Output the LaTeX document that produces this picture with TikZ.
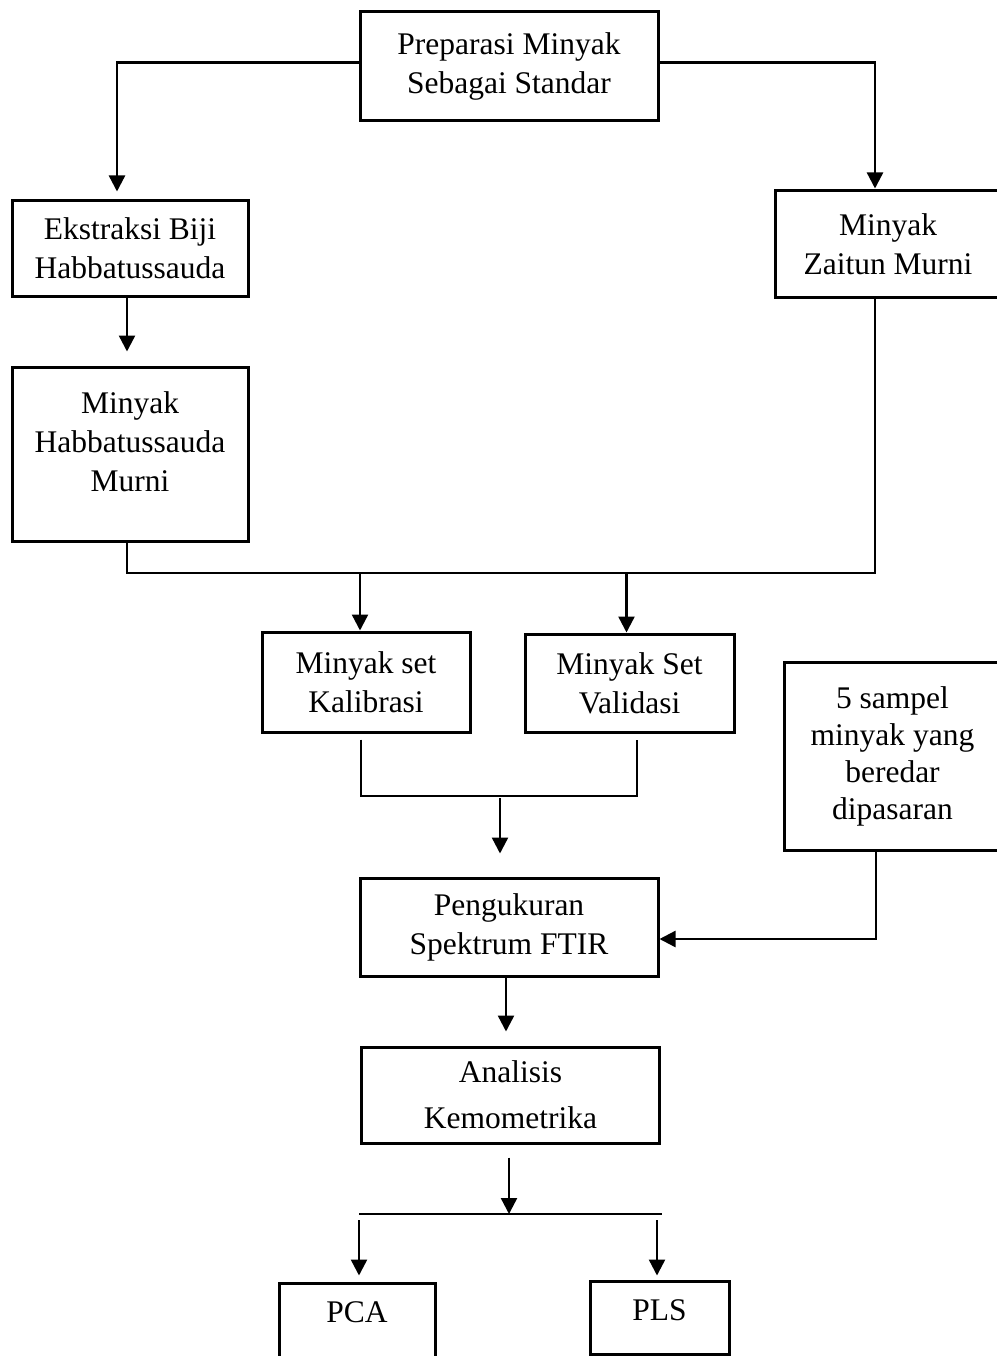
\documentclass[tikz,border=0pt]{standalone}
\usepackage{fontspec}
\setmainfont{Liberation Serif}
\usetikzlibrary{arrows.meta, positioning}

\begin{document}
\begin{tikzpicture}[x=1pt, y=-1pt,
  kotak/.style={draw, line width=3pt, align=center, inner sep=0pt,
    font=\fontsize{31.5}{39}\selectfont},
  panah/.style={-{Triangle[length=16pt,width=16pt]}, line width=2.4pt},
  garis/.style={line width=1.5pt}]
\useasboundingbox (0,0) rectangle (996,1356);

\node[kotak, minimum width=298pt, minimum height=109pt] (prep) at (509,66.5) {Preparasi Minyak\\Sebagai Standar};
\node[kotak, minimum width=236pt, minimum height=95pt] (ekstr) at (130,248.5) {Ekstraksi Biji\\Habbatussauda};
\node[kotak, minimum width=236pt, minimum height=174pt] (mhab) at (130,454) {Minyak\\Habbatussauda\\Murni\\[-15pt]};
\node[kotak, minimum width=226pt, minimum height=106pt] (mzait) at (888,244) {Minyak\\Zaitun Murni};
\node[kotak, minimum width=208pt, minimum height=100pt] (kalib) at (366,682) {Minyak set\\Kalibrasi};
\node[kotak, minimum width=209pt, minimum height=98pt] (valid) at (629.5,683) {Minyak Set\\Validasi};
\node[kotak, minimum width=217pt, minimum height=188pt, font=\fontsize{31.5}{37}\selectfont] (sampel) at (892.5,756) {5 sampel\\minyak yang\\beredar\\dipasaran};
\node[kotak, minimum width=298pt, minimum height=98pt] (ftir) at (509,927) {Pengukuran\\Spektrum FTIR};
\node[kotak, minimum width=298pt, minimum height=96pt, font=\fontsize{31.5}{46}\selectfont] (kemo) at (510.5,1095) {Analisis\\Kemometrika};
\node[kotak, minimum width=156pt, minimum height=88pt] (pca) at (357,1327) {PCA\\[-10pt]};
\node[kotak, minimum width=139pt, minimum height=73pt] (pls) at (659.5,1317.5) {PLS\\[-25pt]};

\coordinate (bar1) at (500,573);
\coordinate (bar2) at (500,796);
\coordinate (bar3) at (509,1214);

% dari preparasi
\draw[panah, shorten >=8pt] ([yshift=4pt]prep.west) -| ([xshift=-13pt]ekstr.north);
\draw[panah, shorten >=1pt] ([yshift=4pt]prep.east) -| ([xshift=-13pt]mzait.north);
\draw[panah, shorten >=14pt] ([xshift=-3pt]ekstr.south) -- ([xshift=-3pt]mhab.north);

% gabungan ke set kalibrasi dan validasi
\draw[garis] ([xshift=-3pt]mhab.south) |- (bar1) -| ([xshift=-13pt]mzait.south);
\draw[panah] ([xshift=-6pt]kalib.north |- bar1) -- ([xshift=-6pt]kalib.north);
\draw[panah] ([xshift=-3pt]valid.north |- bar1) -- ([xshift=-3pt]valid.north);

\draw[garis] ([xshift=-5pt,yshift=-6pt]kalib.south) |- (bar2) -| ([xshift=7.5pt,yshift=-6pt]valid.south);
\draw[panah, shorten <=2pt, shorten >=23pt] (bar2) -- (bar2 |- ftir.north);

% sampel pasar
\draw[panah] ([xshift=-16.5pt]sampel.south) |- ([yshift=-12pt]ftir.east);

\draw[panah, shorten >=14pt] ([xshift=-3pt]ftir.south) -- ([xshift=-3pt]ftir.south |- kemo.north);
\draw[panah, shorten <=13pt] (kemo.south -| bar3) -- (bar3);

% cabang PCA / PLS
\draw[garis] ([xshift=2pt]pca.north |- bar3) -- ([xshift=2.5pt]pls.north |- bar3);
\draw[panah, shorten <=6pt, shorten >=6pt] ([xshift=2pt]pca.north |- bar3) -- ([xshift=2pt]pca.north);
\draw[panah, shorten <=6pt, shorten >=4pt] ([xshift=-2.5pt]pls.north |- bar3) -- ([xshift=-2.5pt]pls.north);
\end{tikzpicture}
\end{document}
